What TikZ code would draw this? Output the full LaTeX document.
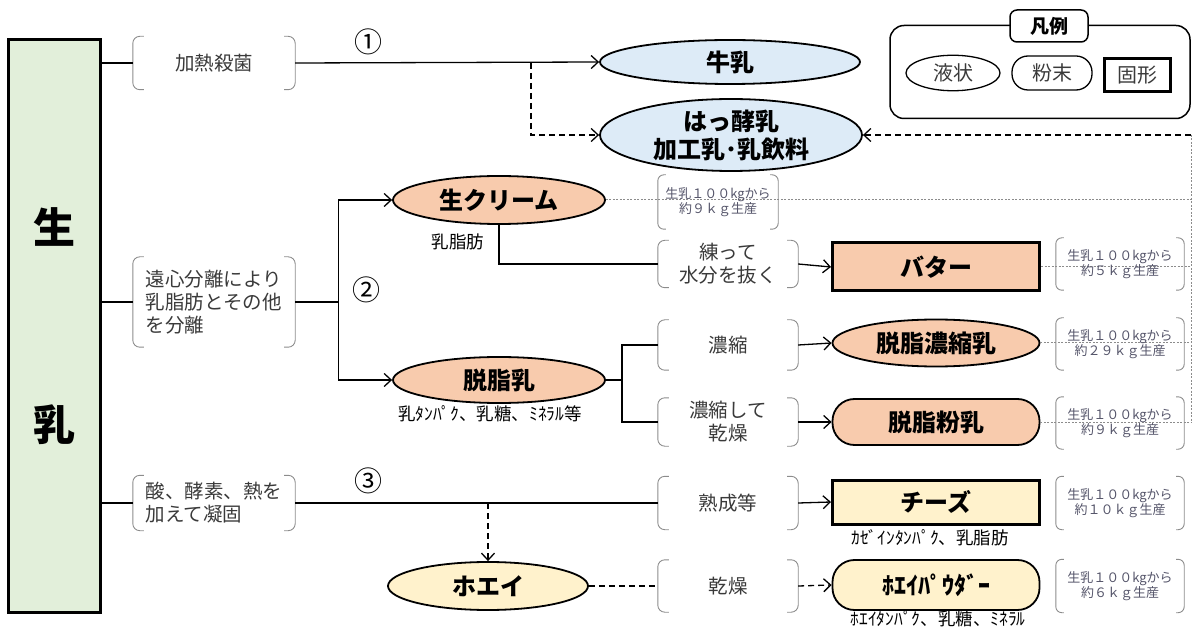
\documentclass[tikz,border=0pt]{standalone}
\usepackage{fontspec}
\setmainfont{Noto Sans CJK JP}
\usetikzlibrary{arrows.meta,positioning,calc,shapes.geometric}
\definecolor{rawgreen}{HTML}{E2EFDA}
\definecolor{liqblue}{HTML}{DDEBF7}
\definecolor{creamorg}{HTML}{F8CBAD}
\definecolor{wheyyel}{HTML}{FFF2CC}
\definecolor{steptxt}{HTML}{3A3A3A}
\definecolor{yieldtxt}{HTML}{55556A}
\definecolor{railgray}{HTML}{8C8C8C}

\begin{document}
\begin{tikzpicture}[x=1pt, y=-1pt,
  lbl/.style={font=\fontsize{24}{28}\selectfont\bfseries, align=center, inner sep=0pt},
  liquid/.style={lbl, ellipse, draw, line width=1.8pt},
  powder/.style={lbl, rectangle, rounded corners=22pt, draw, line width=1.8pt},
  solidbox/.style={lbl, rectangle, draw, line width=3pt},
  stepbox/.style={font=\fontsize{19.5}{23}\selectfont, text=steptxt, align=center, minimum width=140pt, inner sep=0pt},
  yieldbox/.style={font=\fontsize{13}{15}\selectfont, text=yieldtxt, align=center, minimum width=128pt, minimum height=52pt, inner sep=0pt},
  note/.style={font=\fontsize{17.5}{20}\selectfont, inner sep=0pt},
  num/.style={font=\fontsize{28}{30}\selectfont, inner sep=0pt},
  legitem/.style={text=steptxt, font=\fontsize{20}{24}\selectfont},
  bracket/.style={draw=railgray, line width=0.9pt, rounded corners=7pt},
  flow/.style={line width=1.3pt},
  arr/.style={-{Straight Barb[length=7pt,width=13pt]}},
  dashflow/.style={line width=1.3pt, dash pattern=on 6pt off 4pt},
  rail/.style={draw=railgray, line width=1pt, dash pattern=on 2pt off 1.5pt}]
  \useasboundingbox (0,0) rectangle (1200,628);

  % raw milk
  \node[draw, line width=3pt, fill=rawgreen, minimum width=92pt, minimum height=572pt,
        font=\fontsize{42}{197}\selectfont\bfseries, align=center] (raw) at (54,326) {生\\乳};

  % legend
  \node[draw, line width=1.5pt, rounded corners=14pt, minimum width=300pt, minimum height=93pt] (legend) at (1040,72) {};
  \node[draw, line width=1.5pt, rounded corners=7pt, fill=white, minimum width=78pt, minimum height=32pt,
        font=\fontsize{19}{22}\selectfont\bfseries] (legtitle) at (1049,26) {凡例};
  \node[legitem, ellipse, draw, line width=1.3pt, minimum width=94pt, minimum height=34pt] (legliq) at (953,73) {液状};
  \node[legitem, draw, line width=1.3pt, rounded corners=16pt, minimum width=80pt, minimum height=34pt] (legpow) at (1052,73) {粉末};
  \node[legitem, draw, line width=3pt, minimum width=66pt, minimum height=33pt] (legsol) at (1137,75) {固形};

  % row 1: heat
  \node[stepbox, minimum width=162pt, minimum height=53pt] (heat) at (214,63) {加熱殺菌};
  \node[liquid, fill=liqblue, minimum width=260pt, minimum height=44pt] (milk) at (730,62) {牛乳};
  \node[liquid, fill=liqblue, minimum width=262pt, minimum height=60pt] (ferm) at (731,135) {はっ酵乳\\加工乳･乳飲料};
  \node[num] (n1) at (368,42) {①};

  % row 2: separation
  \node[stepbox, minimum width=162pt, minimum height=90pt, align=left] (sep) at (214,302) {遠心分離により\\乳脂肪とその他\\を分離};
  \node[liquid, fill=creamorg, minimum width=212pt, minimum height=48pt] (cream) at (499,200) {生クリーム};
  \node[note] (creamnote) at (458,242) {乳脂肪};
  \node[liquid, fill=creamorg, minimum width=212pt, minimum height=46pt] (skim) at (499,380) {脱脂乳};
  \node[note] (skimnote) at (490,414) {乳ﾀﾝﾊﾟｸ、乳糖、ﾐﾈﾗﾙ等};
  \node[num] (n2) at (366,290) {②};
  \node[stepbox, minimum height=47pt] (knead) at (728,264) {練って\\水分を抜く};
  \node[stepbox, minimum height=50pt] (conc) at (728,345) {濃縮};
  \node[stepbox, minimum height=48pt] (dry) at (728,422) {濃縮して\\乾燥};
  \node[solidbox, fill=creamorg, minimum width=207pt, minimum height=48pt] (butter) at (936,267) {バター};
  \node[liquid, fill=creamorg, minimum width=207pt, minimum height=47pt] (cmilk) at (936,343) {脱脂濃縮乳};
  \node[powder, fill=creamorg, minimum width=207pt, minimum height=46pt] (smp) at (936,422) {脱脂粉乳};

  % row 3: coagulation
  \node[stepbox, minimum width=162pt, minimum height=55pt, align=left] (coag) at (214,503) {酸、酵素、熱を\\加えて凝固};
  \node[num] (n3) at (368,481) {③};
  \node[stepbox, minimum height=53pt] (ripen) at (728,503) {熟成等};
  \node[solidbox, fill=wheyyel, minimum width=207pt, minimum height=44pt] (cheese) at (936,502) {チーズ};
  \node[note] (cheesenote) at (930,538) {ｶｾﾞｲﾝﾀﾝﾊﾟｸ、乳脂肪};
  \node[liquid, fill=wheyyel, minimum width=200pt, minimum height=48pt] (whey) at (488,586) {ホエイ};
  \node[stepbox, minimum height=52pt] (wdry) at (728,586) {乾燥};
  \node[powder, fill=wheyyel, minimum width=207pt, minimum height=50pt] (wpow) at (936,585) {ﾎｴｲﾊﾟｳﾀﾞｰ};
  \node[note] (wpownote) at (938,619) {ﾎｴｲﾀﾝﾊﾟｸ、乳糖、ﾐﾈﾗﾙ};

  % yields
  \coordinate (railtop) at (1191,135);
  \draw[rail] (cream.east) -- (cream.east -| railtop);
  \draw[rail] (butter.east) -- (butter.east -| railtop);
  \draw[rail] (cmilk.east) -- (cmilk.east -| railtop);
  \draw[rail] (smp.east) -- (smp.east -| railtop);
  \draw[rail] (railtop) -- (railtop |- smp.east);
  \draw[dashflow, arr] (railtop) -- (ferm.east);
  \node[yieldbox, minimum width=120pt, minimum height=54pt] (ycream) at (718,202) {生乳１００kgから\\約９ｋｇ生産};
  \node[yieldbox] (ybutter) at (1120,264) {生乳１００kgから\\約５ｋｇ生産};
  \node[yieldbox] (ycmilk) at (1120,344) {生乳１００kgから\\約２９ｋｇ生産};
  \node[yieldbox] (ysmp) at (1120,423) {生乳１００kgから\\約９ｋｇ生産};
  \node[yieldbox, minimum height=53pt] (ycheese) at (1120,503) {生乳１００kgから\\約１０ｋｇ生産};
  \node[yieldbox, minimum height=53pt] (ywpow) at (1120,586) {生乳１００kgから\\約６ｋｇ生産};

  % brackets
  \foreach \n in {heat,sep,coag,knead,conc,dry,ripen,wdry} {
    \draw[bracket] ([xshift=11pt]\n.north west) -- (\n.north west) -- (\n.south west) -- ([xshift=11pt]\n.south west);
    \draw[bracket] ([xshift=-11pt]\n.north east) -- (\n.north east) -- (\n.south east) -- ([xshift=-11pt]\n.south east);
  }
  \foreach \n in {ycream,ybutter,ycmilk,ysmp,ycheese,ywpow} {
    \draw[bracket, rounded corners=6pt] ([xshift=8pt]\n.north west) -- (\n.north west) -- (\n.south west) -- ([xshift=8pt]\n.south west);
    \draw[bracket, rounded corners=6pt] ([xshift=-8pt]\n.north east) -- (\n.north east) -- (\n.south east) -- ([xshift=-8pt]\n.south east);
  }

  % connectors
  \draw[flow] (raw.east |- heat.west) -- (heat.west);
  \draw[flow, arr] (heat.east) -- (milk.west);
  \coordinate (fork1) at (531,63);
  \draw[dashflow, arr] (fork1) |- (ferm.west);

  \draw[flow] (raw.east |- sep.west) -- (sep.west);
  \draw[flow] (sep.east) -- ++(43,0) coordinate (fork2);
  \draw[flow, arr] (fork2) |- (cream.west);
  \draw[flow, arr] (fork2) |- (skim.west);
  \draw[flow] (cream.south) |- (knead.west);
  \draw[flow, arr] (knead.east) -- (butter.west);
  \draw[flow] (skim.east) -- ++(16,0) coordinate (fork3);
  \draw[flow] (fork3) |- (conc.west);
  \draw[flow] (fork3) |- (dry.west);
  \draw[flow, arr] (conc.east) -- (cmilk.west);
  \draw[flow, arr] (dry.east) -- (smp.west);

  \draw[flow] (raw.east |- coag.west) -- (coag.west);
  \draw[flow] (coag.east) -- (ripen.west);
  \draw[flow, arr] (ripen.east) -- (cheese.west);
  \draw[dashflow, arr] (whey.north |- ripen.west) -- (whey.north);
  \draw[dashflow] (whey.east) -- (wdry.west);
  \draw[dashflow, arr] (wdry.east) -- (wpow.west);
\end{tikzpicture}
\end{document}
